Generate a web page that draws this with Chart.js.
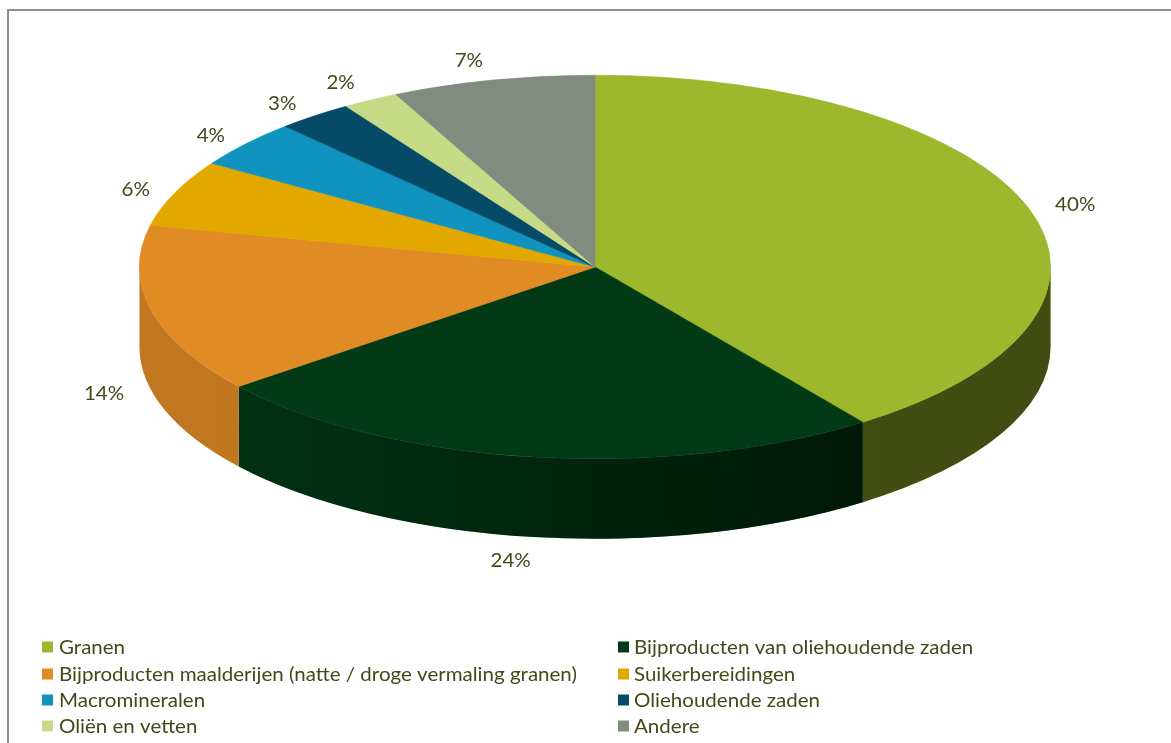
<!DOCTYPE html>
<html><head><meta charset="utf-8">
<style>html,body{margin:0;padding:0;background:#fff}canvas{display:block}</style>
<script src="https://cdn.jsdelivr.net/npm/chart.js@4/dist/chart.umd.js"></script>
</head><body><canvas id="c" width="1171" height="743"></canvas>
<script>
const categories = ["Granen","Bijproducten van oliehoudende zaden","Bijproducten maalderijen (natte / droge vermaling granen)","Suikerbereidingen","Macromineralen","Oliehoudende zaden","Oliën en vetten","Andere"];
const shares = [40.0,24.3,14.2,5.6,4.0,2.7,2.0,7.2];
const sliceColors = ["#9db82c","#013a15","#e18b25","#e3a800","#1093bf","#054a66","#c7da86","#818b80"];

const TEXT = "#44491a";
const FONT = '19px Lato';
const TEXT_STRETCH = 1.08;
const STRETCH = 456/192, DEPTH = 80;
const labelNudge = [[47,-3],[-23,24],[-47,4],[-39,-3],[-35,-8],[-32.5,-12],[-30,-17],[-24,-19]];
const legendCols = [42,618], legendRows = [647,674,700,726];

function stretchedText(c,text,x,y,align){
  c.save();
  c.translate(x,y); c.scale(TEXT_STRETCH,1);
  c.textAlign = align; c.textBaseline = "middle";
  c.fillText(text,0,0);
  c.restore();
}

const pie3d = {
  id:"pie3d",
  beforeDraw(chart){
    const c = chart.ctx;
    c.save();
    c.fillStyle="#fff"; c.fillRect(0,0,chart.width,chart.height);
    c.fillStyle="#8e8e8e";
    c.fillRect(7,9,chart.width-7,2);
    c.fillRect(7,9,2,chart.height-9);
    c.restore();
  },
  beforeDatasetsDraw(chart){
    const c = chart.ctx, arcs = chart.getDatasetMeta(0).data;
    const {x:cx,y:cy,outerRadius:r} = arcs[0].getProps(["x","y","outerRadius"],true);
    const rx = r*STRETCH;
    arcs.forEach((arc,i)=>{
      const s = Math.max(arc.startAngle,0), e = Math.min(arc.endAngle,Math.PI);
      if(e<=s) return;
      const path = ()=>{
        c.beginPath();
        c.ellipse(cx,cy,rx,r,0,s,e,false);
        c.ellipse(cx,cy+DEPTH,rx,r,0,e,s,true);
        c.closePath();
      };
      path(); c.fillStyle = sliceColors[i]; c.fill();
      const g = c.createLinearGradient(cx-rx,0,cx+rx,0);
      g.addColorStop(0,"rgba(0,0,0,.14)");
      g.addColorStop(.11,"rgba(0,0,0,.15)");
      g.addColorStop(.79,"rgba(0,0,0,.58)");
      g.addColorStop(1,"rgba(0,0,0,.59)");
      path(); c.fillStyle = g; c.fill();
    });
    c.save();
    c.translate(cx,cy); c.scale(STRETCH,1); c.translate(-cx,-cy);
  },
  afterDatasetsDraw(chart){
    const c = chart.ctx, arcs = chart.getDatasetMeta(0).data;
    c.restore();
    c.save();
    c.font = FONT; c.fillStyle = TEXT;
    arcs.forEach((arc,i)=>{
      const mid = (arc.startAngle+arc.endAngle)/2;
      const bottom = Math.sin(mid)>0;
      const x = arc.x + Math.cos(mid)*arc.outerRadius*STRETCH + labelNudge[i][0];
      const y = arc.y + Math.sin(mid)*arc.outerRadius + (bottom?DEPTH:0) + labelNudge[i][1];
      stretchedText(c,Math.round(shares[i])+"%",x,y,"center");
    });
    categories.forEach((name,i)=>{
      const lx = legendCols[i%2], ly = legendRows[Math.floor(i/2)];
      c.fillStyle = sliceColors[i];
      c.fillRect(lx,ly-5.5,11,11);
      c.fillStyle = TEXT;
      stretchedText(c,name,lx+(i%2?16:17),ly+1,"left");
    });
    c.restore();
  }
};

new Chart(document.getElementById("c"),{
  type:"pie",
  data:{labels:categories,datasets:[{data:shares,backgroundColor:sliceColors,borderColor:sliceColors,borderWidth:0.4,clip:false}]},
  options:{
    responsive:false,animation:false,
    layout:{padding:{left:139,right:120,top:75,bottom:284}},
    plugins:{legend:{display:false},tooltip:{enabled:false}}
  },
  plugins:[pie3d]
});
</script></body></html>
